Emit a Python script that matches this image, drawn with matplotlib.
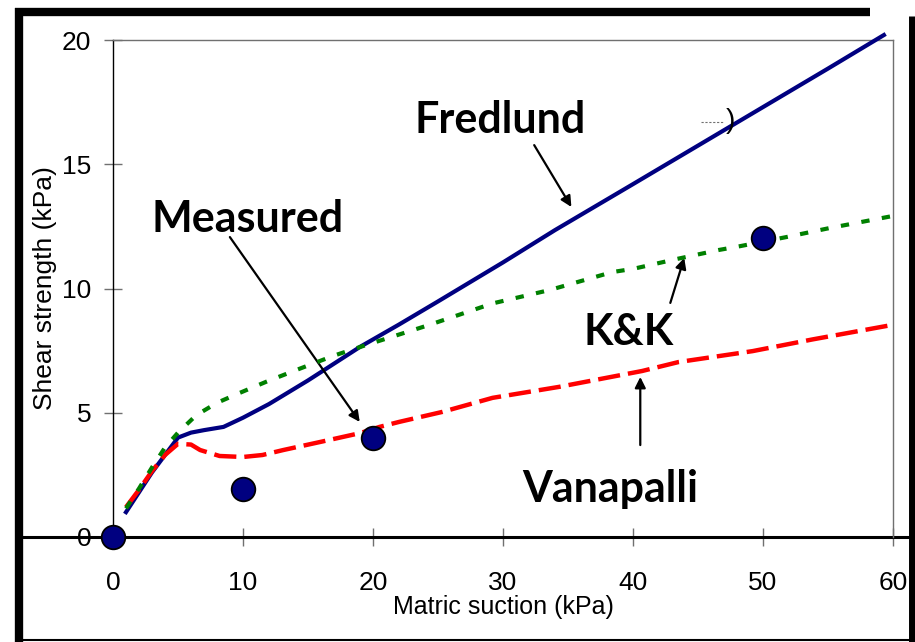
import matplotlib
matplotlib.use('Agg')
import matplotlib.pyplot as plt
from matplotlib.lines import Line2D

plt.rcParams['font.family'] = ['Liberation Sans', 'DejaVu Sans']

# Matric suction (kPa) / shear strength (kPa)
fred_x = [1, 2, 3, 4, 5, 6, 7, 8.5, 10, 12, 15, 19, 22, 25, 30, 34, 40, 45, 50, 55, 59.3]
fred_y = [1.0, 1.8, 2.6, 3.3, 4.0, 4.2, 4.3, 4.43, 4.8, 5.35, 6.3, 7.65, 8.55, 9.48,
          11.05, 12.35, 14.2, 15.75, 17.3, 18.85, 20.2]

kk_x = [1, 2, 3, 4, 5, 6.4, 8, 9.75, 11.8, 14, 17, 19.5, 24.3, 29.2, 33.6, 38.4,
        40.1, 43.3, 46.6, 48.2, 51.8, 55.1, 59.8]
kk_y = [1.15, 1.95, 2.8, 3.6, 4.2, 4.9, 5.4, 5.8, 6.25, 6.7, 7.3, 7.73, 8.53, 9.4,
        9.94, 10.66, 10.8, 11.18, 11.55, 11.7, 12.07, 12.43, 12.9]

van_x = [1, 2, 3, 4, 5, 6, 6.7, 8.2, 10, 11.5, 13.1, 15.9, 19, 20.5, 22, 25.3, 29.2,
         34.3, 40.7, 43.5, 49.2, 53.8, 59.9]
van_y = [1.2, 1.9, 2.65, 3.3, 3.75, 3.72, 3.5, 3.26, 3.22, 3.3, 3.5, 3.82, 4.18, 4.43,
         4.63, 5.03, 5.6, 6.04, 6.68, 7.04, 7.48, 7.95, 8.53]

meas_x = [0, 10, 20, 50]
meas_y = [0, 1.95, 3.97, 12.03]

W, H = 915, 642
fig = plt.figure(figsize=(W / 100, H / 100), dpi=100)
ax = fig.add_axes([113 / W, 1 - 537 / H, 780 / W, 497 / H])

ax.plot(fred_x, fred_y, color='#000080', lw=3, clip_on=False, zorder=3)
ax.plot(van_x, van_y, color='#ff0000', lw=3.2, dashes=(5, 1.8), clip_on=False, zorder=4)
ax.plot(kk_x, kk_y, color='#008000', lw=3, dashes=(2, 3), clip_on=False, zorder=5)
ax.plot(meas_x, meas_y, 'o', color='#000080', ms=17, mec='black', mew=1.3,
        clip_on=False, zorder=6)

ax.set_xlim(0, 60)
ax.set_ylim(0, 20)
ax.set_xticks(range(0, 61, 10))
ax.set_yticks(range(0, 21, 5))

for s in ['top', 'right']:
    ax.spines[s].set_color('#707070')
    ax.spines[s].set_linewidth(1)
ax.spines['left'].set_color('black')
ax.spines['left'].set_linewidth(1)
ax.spines['bottom'].set_visible(False)
ax.axhline(0, xmin=-0.117, xmax=1.021, color='black', lw=2.2, clip_on=False, zorder=2)

ax.tick_params(axis='both', direction='inout', length=13, width=1, color='#707070',
               labelsize=19)
ax.tick_params(axis='x', pad=18)
ax.tick_params(axis='y', pad=9)

ax.set_xlabel('Matric suction (kPa)', fontsize=18, labelpad=0)
ax.set_ylabel('Shear strength (kPa)', fontsize=19, labelpad=4)

# curve labels
lab = dict(fontsize=31, fontweight='bold', family='Lato', ha='center', va='baseline')
ax.text(29.8, 16.26, 'Fredlund', **lab)
ax.text(10.33, 12.27, 'Measured', **lab)
ax.text(39.64, 7.73, 'K&K', **lab)
ax.text(38.26, 1.41, 'Vanapalli', **lab)

arr = dict(arrowstyle='-|>', color='black', lw=1.6, mutation_scale=16,
           shrinkA=0, shrinkB=0)
ax.annotate('', xy=(35.26, 13.28), xytext=(32.4, 15.77), arrowprops=arr)
ax.annotate('', xy=(18.98, 4.63), xytext=(8.99, 12.07), arrowprops=arr)
ax.annotate('', xy=(43.94, 11.23), xytext=(42.87, 9.42), arrowprops=arr)
ax.annotate('', xy=(40.56, 6.44), xytext=(40.56, 3.70), arrowprops=arr)

# small stray mark near the Fredlund line
ax.plot([45.2, 47.0], [16.7, 16.7], color='#707070', lw=0.8, ls=(0, (2, 1.5)))
ax.text(47.1, 16.75, ')', fontsize=20, ha='left', va='center')

# outer frame
def fline(x0, y0, x1, y1, lw):
    fig.add_artist(Line2D([x0 / W, x1 / W], [1 - y0 / H, 1 - y1 / H],
                          transform=fig.transFigure, color='black', lw=lw,
                          solid_capstyle='butt'))

fline(19, 8, 19, 642, 6)
fline(15, 12, 870, 12, 6)
fline(912, 16, 912, 642, 5)
fline(15, 640, 915, 640, 1.5)

fig.savefig('out.png', dpi=100)
